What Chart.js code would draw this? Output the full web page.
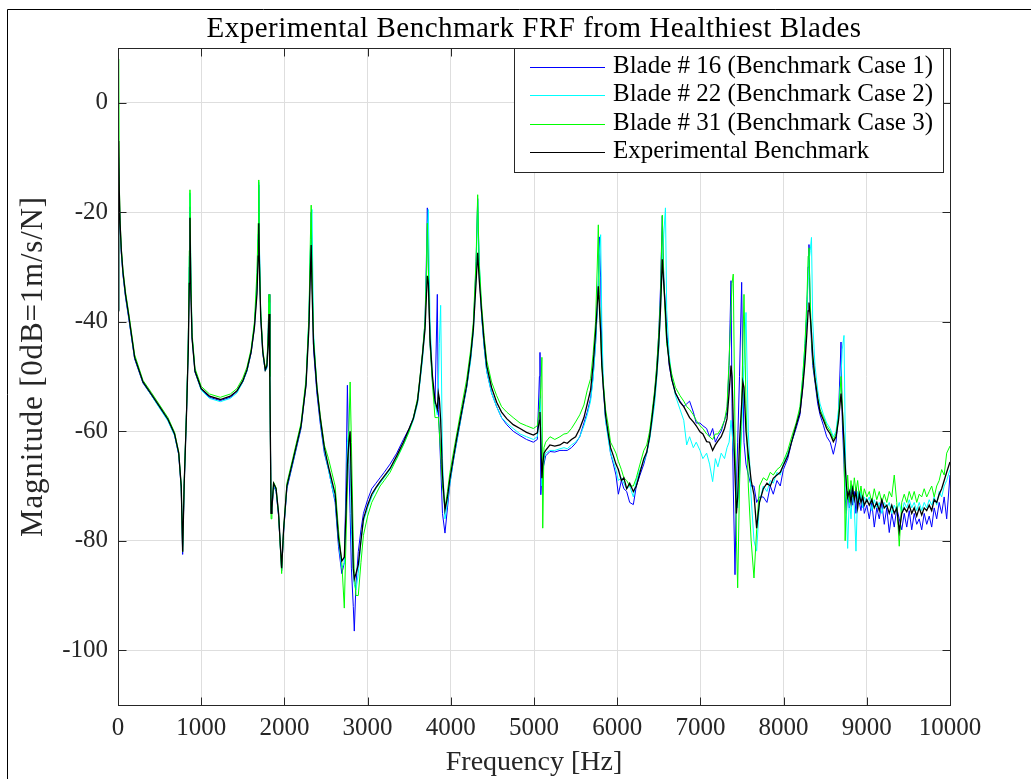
<!DOCTYPE html>
<html><head><meta charset="utf-8">
<script src="https://cdn.jsdelivr.net/npm/chart.js@4.4.1/dist/chart.umd.min.js"></script>
<style>html,body{margin:0;padding:0;background:#fff;}canvas{display:block;}</style>
</head><body>
<canvas id="c" width="1031" height="779"></canvas>
<script>
// ---------------- DATA ----------------
const freqHz = [
0, 8, 15, 25, 40, 60, 90, 130, 200, 300,
400, 500, 600, 680, 730, 760, 777, 795, 825, 845,
857, 865, 875, 890, 925, 1000, 1100, 1230, 1350, 1430,
1500, 1550, 1600, 1640, 1670, 1685, 1692, 1700, 1715, 1740,
1770, 1790, 1805, 1815, 1825, 1840, 1850, 1870, 1900, 1930,
1967, 1990, 2030, 2100, 2200, 2260, 2295, 2312, 2322, 2332,
2350, 2390, 2430, 2480,
2530, 2570, 2610, 2650, 2690, 2720, 2740, 2757, 2775, 2790,
2805, 2828, 2840, 2860, 2888, 2920, 2950, 3000, 3050, 3100,
3150, 3200, 3270, 3350, 3430, 3500, 3550, 3600, 3630, 3660,
3690, 3705, 3718, 3730, 3750, 3780, 3810, 3838, 3850, 3862,
3878, 3900, 3930, 3960, 3990, 4030, 4071, 4130, 4191, 4240,
4271, 4303, 4323, 4340, 4371, 4400, 4431, 4490, 4551, 4610,
4672, 4750, 4832, 4910, 4992, 5040, 5065, 5072, 5082, 5095,
5105, 5120, 5140, 5192, 5250,
5312, 5360, 5400, 5450, 5500, 5550, 5600, 5640, 5680, 5710,
5740, 5760, 5773, 5785, 5801, 5815, 5833, 5860, 5893, 5920,
5954, 5985, 6014, 6050, 6080, 6114, 6150, 6194, 6230, 6274,
6320, 6355, 6390, 6415, 6450, 6475, 6500, 6520, 6542, 6560,
6580, 6595, 6625, 6655, 6700, 6755, 6800, 6835, 6870, 6915,
6950, 6995, 7030, 7075, 7110, 7147, 7180, 7210, 7250, 7290,
7320, 7345, 7368, 7380, 7395, 7416, 7433, 7448, 7470, 7496,
7510, 7524, 7548, 7576, 7610, 7644, 7676,
7710, 7756, 7800, 7840, 7876, 7920, 7960, 7997, 8050, 8097,
8150, 8197, 8230, 8257, 8280, 8295, 8305, 8320, 8335, 8350,
8377, 8410, 8438, 8480, 8518, 8560, 8598, 8630, 8660, 8690,
8705, 8726, 8740, 8755, 8770, 8790, 8810, 8830, 8850, 8870,
8890, 8910, 8930, 8950, 8970, 9000, 9030, 9060, 9090, 9120,
9150, 9180, 9210, 9240, 9270, 9300, 9330, 9360, 9390, 9420,
9450, 9480, 9510, 9540, 9570, 9600, 9630, 9660, 9690, 9720,
9750, 9780, 9810, 9840, 9870, 9900, 9930, 9960, 10000
];

const blade16 = [
-38, -12, -18, -23, -27.5, -31.5, -35.5, -39.5, -46.8, -51.2,
-53.4, -55.7, -58, -60.7, -64.3, -70.5, -82.5, -70, -56, -44,
-30, -19, -33, -43, -49.2, -52.4, -53.8, -54.4, -53.8, -52.8,
-51, -49, -45.7, -41, -34, -25, -15, -27, -39, -45.7,
-49, -48.3, -42, -35, -50, -75, -74.5, -70, -71, -75.5,
-85.5, -78.5, -70.5, -66, -59.5, -51.5, -40, -28, -20, -31,
-45, -53, -58.5, -64,
-67, -70, -73, -81, -86, -84, -70, -51.6, -66, -75,
-85, -92, -96.5, -88, -82, -78, -75, -72.5, -70.5, -69.5,
-68.5, -67.5, -66, -64, -61.5, -59.5, -57.5, -54.5, -50.5, -46,
-40, -30, -19.2, -30, -44, -51, -55, -35, -56, -60,
-66, -75, -78.6, -74, -69.5, -65.5, -62, -57, -52, -46.5,
-41, -30, -17.5, -30, -39, -44.5, -49, -53, -55.5, -57.5,
-58.8, -60, -60.8, -61.5, -62, -61.5, -50, -45.6, -71.6, -68,
-67, -66, -64.5, -63.7, -63.8,
-63.5, -63.5, -63.5, -63, -62.2, -61, -58.5, -56.5, -54, -50,
-44, -38, -33, -24.5, -32, -45, -52, -58, -61, -64,
-66, -68, -71.5, -69, -70.5, -71, -73, -73.4, -70, -68,
-66, -64, -61, -58, -53, -48.5, -42, -34, -20.7, -32,
-38, -42, -48, -50.5, -53, -54.5, -55.5, -55, -54.5, -56.5,
-58.5, -58.5, -59, -59.5, -61, -59.5, -62, -61, -60, -58,
-56.5, -48, -32.5, -55, -70, -86.2, -70, -62, -50, -32.8,
-50, -62, -66, -68, -70, -70, -73,
-72, -72, -73, -70, -71.5, -69, -70, -67, -65, -62,
-59.5, -57, -52, -46, -38, -30, -25.9, -38, -44, -48,
-51, -55, -57, -59, -61, -62, -64.2, -62, -57, -43.7,
-58, -66, -72, -75, -71, -74, -70, -73.5, -71, -75,
-72, -73, -74.5, -72, -75, -73.5, -76, -73, -77.5, -74,
-76, -73, -77, -74, -78.5, -75, -77.5, -74, -76, -78,
-75, -77.5, -74.5, -78, -75, -77, -76, -78, -75, -77,
-75.5, -77.5, -74, -76, -73, -75, -72, -76, -68
];

const blade22 = [
-38, -10, -17, -22.5, -27.2, -31.2, -35.2, -39.2, -46.6, -51.1,
-53.4, -55.8, -58.1, -60.8, -64.2, -70, -81, -70, -55.5, -44,
-28, -16.5, -30, -42.5, -49, -52.5, -54, -54.6, -54, -53,
-51, -49, -45.5, -40.5, -33, -24, -14.5, -26, -38.5, -45.5,
-49, -48.5, -43, -36.5, -50, -74.5, -74, -69.8, -70.8, -75.2,
-85.2, -78.2, -70.2, -65.8, -59.2, -51, -39, -27, -21, -19.5,
-42, -52, -58, -63.5,
-67, -70, -72.5, -80, -85, -84, -74, -62, -60, -63,
-78, -86, -88, -89, -86, -80, -76.5, -74, -72, -70.5,
-69.5, -68.5, -67, -65, -62.5, -60, -58, -55, -51, -47,
-41, -32, -24, -19.5, -40, -50.5, -55, -57, -52, -44,
-37, -65, -76, -73, -69.5, -65.5, -62, -57, -52, -47,
-42, -32, -18, -28, -39, -44.5, -49, -53, -55.5, -57.5,
-58.5, -59.5, -60.5, -61, -61.5, -61, -58, -54, -58, -70,
-68, -65, -64, -63.5, -63.5,
-63.2, -63, -63.2, -62.5, -62, -61, -59, -57, -54.5, -50.5,
-44, -38, -33, -28, -24.1, -40, -51, -58, -61.5, -64,
-65.5, -67, -69, -68.5, -69.5, -70.5, -70, -72, -69, -67,
-65.5, -64, -61.5, -59, -55, -50.5, -45, -38, -30, -24,
-19.2, -38, -46, -50, -53.5, -56, -58, -62.5, -61, -63,
-62, -63.5, -65, -64, -66, -69.2, -65, -66.5, -64, -65,
-63, -62, -58, -60, -63, -66, -72, -74, -68, -60,
-54, -48, -38.3, -60, -72, -80, -81.9,
-73, -70, -71, -69, -69.5, -67.5, -68, -66, -64, -62,
-59, -56, -50, -44, -38, -32, -29, -27, -24.6, -40,
-48, -52.5, -55, -57, -58.5, -59.5, -61, -60, -56, -50,
-45, -42.5, -60, -75, -81.4, -72, -76, -70, -74, -81.9,
-71, -73, -71, -74, -72, -73, -72, -74.5, -72.5, -74,
-73, -75, -73, -74, -73, -75, -73.5, -74.5, -73, -75,
-73, -74, -72.5, -74, -73, -74.5, -73, -74.5, -73, -74,
-72.5, -73.5, -72, -73.5, -71, -72, -70, -69, -67
];

const blade31 = [
-38, 8, -14, -21.5, -26.5, -30.5, -34.5, -38.5, -46, -50.7,
-52.9, -55.2, -57.5, -60.2, -63.8, -70, -82, -69.5, -55.5, -43,
-27, -15.9, -31, -42, -48.5, -51.8, -53.2, -53.8, -53.2, -52.2,
-50.3, -48.3, -45, -40, -31, -22, -14.1, -28, -38, -45,
-48.5, -47.5, -42, -35, -50, -76, -74, -69.3, -70.3, -75,
-86, -78, -69.5, -65, -58.5, -50.5, -39, -25, -18.7, -30,
-43, -51.5, -57, -62.5,
-65, -67.5, -70, -78, -84, -92.3, -80, -70, -60, -51,
-62, -80, -86, -90, -90, -84, -79, -75.5, -73, -71.5,
-70, -69, -67.5, -65, -62.5, -60, -57.5, -54, -50, -45.5,
-40, -32, -22, -30, -44, -51.5, -57.5, -57.5, -57.4, -60,
-64, -70, -74, -71, -67.5, -64, -60.5, -55.5, -50.5, -45,
-40, -29, -16.8, -29, -37, -42.5, -47, -51, -53.5, -55.5,
-56.5, -57.5, -58.5, -59, -59.5, -59, -56, -56, -52, -46.5,
-77.7, -63, -62, -61, -61.5,
-61, -60.5, -60.4, -59.5, -58.3, -57, -55.2, -52.5, -50.4, -46,
-40, -30, -22.3, -35, -42, -48, -51, -56, -59, -62,
-63, -64, -65.5, -67, -68.5, -69, -70, -70, -68.5, -66,
-63.5, -62.5, -60, -57, -52.5, -48, -42, -36, -20.5, -33,
-40, -44, -47, -49.5, -52, -53.5, -54.5, -55.5, -56, -57,
-58, -59, -59.5, -60.5, -61, -61.5, -60.5, -60.5, -59.5, -58,
-55.5, -47, -38, -33, -31.3, -60, -80, -88.6, -70, -55,
-45, -35, -55, -70, -80, -86.8, -78,
-70, -68.5, -69, -67.5, -68, -67, -66.5, -65.5, -63.5, -61,
-58.5, -55.5, -50, -44, -36, -28, -26.5, -36, -43, -47,
-50.5, -54, -56, -57.5, -59, -60, -61.5, -60.5, -57.5, -50,
-55, -62, -80, -72, -68, -73, -69, -72, -68.5, -71,
-69, -72, -70, -72.5, -70.5, -72, -71, -73, -70.5, -72.5,
-71, -73, -71.5, -73, -71, -72, -68, -73, -81, -73,
-71.5, -73, -71, -72.5, -71, -73, -71.5, -72, -70.5, -72,
-71, -70, -72, -70, -69, -67, -68, -64, -62.7
];

const benchmark = [
-38, -7, -16, -22, -27, -31, -35, -39, -46.5, -51,
-53.2, -55.5, -57.8, -60.5, -64, -70, -82, -70, -56, -45,
-33, -21, -34, -43, -49, -52.2, -53.6, -54.2, -53.6, -52.6,
-50.8, -48.8, -45.5, -41, -35, -28, -22, -30, -39, -45.5,
-48.8, -48, -44, -38.6, -50, -75, -74, -69.5, -70.5, -75,
-85, -78, -70, -65.5, -59, -51.5, -41, -31, -26, -34,
-44, -52, -57.5, -63,
-66.5, -69, -71.5, -79.5, -83.7, -83, -75, -66, -62, -60,
-70, -85, -87, -86, -84.4, -80, -76, -73.5, -71.5, -70.3,
-69.2, -68.2, -66.8, -64.5, -62, -59.5, -57.7, -54.5, -50.4, -46,
-41.4, -36, -31.6, -33, -43, -50, -54.4, -56, -53, -54,
-58, -68, -74.4, -72, -68.6, -65, -61.3, -56.5, -51.6, -46,
-41.4, -33, -27.4, -32, -38.3, -43.5, -48, -52, -54.7, -56.5,
-57.7, -58.8, -59.5, -60.2, -60.7, -60.3, -58, -56.5, -62, -68.6,
-66, -64, -63.5, -62.5, -62.7,
-62.5, -62, -62.2, -61.5, -61, -59.5, -57.5, -55, -52.5, -48,
-42, -37, -33.5, -37, -42, -48, -52, -57, -60.5, -63,
-64.5, -66, -67, -69, -68.5, -70.5, -69.5, -71, -70, -67.5,
-65, -63.8, -61, -58, -53.5, -49.5, -44, -38, -28.6, -33,
-38, -43, -47.5, -50.5, -53, -54.7, -55.5, -56.5, -57.5, -58.3,
-59, -60.1, -60.5, -61.9, -62, -63.5, -62.5, -61.8, -61, -59.5,
-57.7, -53, -48, -50, -58, -68, -75, -72, -62, -55,
-51, -52, -60, -64.4, -69, -71.6, -77.7,
-73, -70.5, -69.5, -70, -68.6, -68, -67.5, -66.2, -64.5, -61.9,
-59, -56.5, -52, -47.4, -42, -38, -36.5, -39, -42, -46,
-50.4, -54, -56.5, -58, -59.5, -60.5, -61.9, -61, -58, -53.1,
-56, -62, -66, -70, -72, -71, -73, -70.5, -72.5, -71,
-74, -71.5, -73, -72, -73.5, -72.5, -73.5, -72.5, -74, -73,
-74.5, -72.5, -74, -73.5, -75, -73.5, -75, -74, -78.3, -75,
-74, -74.7, -73.5, -75, -74, -75.5, -74, -75.3, -74, -74.5,
-73.5, -74.5, -72.5, -73, -71.5, -70.5, -69, -67.5, -65.6
];

const seriesLabels = [
  'Blade # 16 (Benchmark Case 1)',
  'Blade # 22 (Benchmark Case 2)',
  'Blade # 31 (Benchmark Case 3)',
  'Experimental Benchmark'
];
const xTickValues = [0, 1000, 2000, 3000, 4000, 5000, 6000, 7000, 8000, 9000, 10000];
const yTickValues = [-100, -80, -60, -40, -20, 0];
const chartTitle = 'Experimental Benchmark FRF from Healthiest Blades';
const xAxisTitle = 'Frequency [Hz]';
const yAxisTitle = 'Magnitude [0dB=1m/s/N]';

// ---------------- STYLE ----------------
const SERIF = "'Liberation Serif', 'Times New Roman', serif";
const AXC = '#262626';
const colors = ['#0000ff', '#00ffff', '#00ff00', '#000000'];
const widths = [1, 1, 1, 1.3];
const drawOrder = [3, 2, 1, 0];

function toPoints(ys) {
  const n = Math.min(freqHz.length, ys.length);
  const out = [];
  for (let i = 0; i < n; i++) out.push({ x: freqHz[i], y: ys[i] });
  return out;
}
const seriesValues = [blade16, blade22, blade31, benchmark];

function setSpacing(ctx, v) { try { ctx.letterSpacing = v; } catch (e) {} }

const decorPlugin = {
  id: 'decor',
  beforeDraw(chart) {
    const ctx = chart.ctx;
    ctx.save();
    ctx.fillStyle = '#fff';
    ctx.fillRect(0, 0, chart.width, chart.height);
    ctx.strokeStyle = '#000';
    ctx.lineWidth = 1;
    ctx.beginPath();
    ctx.moveTo(7.5, chart.height);
    ctx.lineTo(7.5, 9.5);
    ctx.lineTo(chart.width, 9.5);
    ctx.stroke();
    ctx.restore();
  },
  afterDraw(chart) {
    const ctx = chart.ctx;
    const a = chart.chartArea;
    const xs = chart.scales.x, ys = chart.scales.y;
    const L = Math.round(a.left) + 0.5, R = Math.round(a.right) + 0.5;
    const T = Math.round(a.top) + 0.5, B = Math.round(a.bottom) + 0.5;
    ctx.save();
    // axes box
    ctx.strokeStyle = AXC;
    ctx.lineWidth = 1;
    ctx.strokeRect(L, T, R - L, B - T);
    // inner ticks
    const tl = 8;
    ctx.beginPath();
    xTickValues.forEach(v => {
      const px = Math.round(xs.getPixelForValue(v)) + 0.5;
      ctx.moveTo(px, B); ctx.lineTo(px, B - tl);
      ctx.moveTo(px, T); ctx.lineTo(px, T + tl);
    });
    yTickValues.forEach(v => {
      const py = Math.round(ys.getPixelForValue(v)) + 0.5;
      ctx.moveTo(L, py); ctx.lineTo(L + tl, py);
      ctx.moveTo(R, py); ctx.lineTo(R - tl, py);
    });
    ctx.stroke();

    // title
    ctx.fillStyle = '#000';
    ctx.font = '29px ' + SERIF;
    ctx.textAlign = 'center';
    ctx.textBaseline = 'alphabetic';
    setSpacing(ctx, '0.5px');
    ctx.fillText(chartTitle, (a.left + a.right) / 2, 37);

    // y axis title (rotated)
    ctx.save();
    ctx.fillStyle = AXC;
    ctx.font = '31px ' + SERIF;
    setSpacing(ctx, '0.8px');
    ctx.translate(42, (a.top + a.bottom) / 2 - 10);
    ctx.rotate(-Math.PI / 2);
    ctx.textAlign = 'center';
    ctx.textBaseline = 'alphabetic';
    ctx.fillText(yAxisTitle, 0, 0);
    ctx.restore();
    setSpacing(ctx, '0px');

    // legend
    ctx.font = '25px ' + SERIF;
    const ds = chart.data.datasets;
    let maxW = 0;
    ds.forEach(d => { maxW = Math.max(maxW, ctx.measureText(d.label).width); });
    const lineLen = 75, padL = 16, gap = 8, padR = 10;
    const boxW = padL + lineLen + gap + maxW + padR;
    const boxR = Math.round(a.right) - 7;
    const boxL = Math.round(boxR - boxW);
    const boxT = Math.round(a.top);
    const rowH = 28.4, firstRow = 19;
    const boxH = Math.round(firstRow + rowH * (ds.length - 1) + 20);
    ctx.fillStyle = '#fff';
    ctx.fillRect(boxL + 0.5, boxT + 0.5, boxR - boxL, boxH);
    ctx.strokeStyle = AXC;
    ctx.lineWidth = 1;
    ctx.strokeRect(boxL + 0.5, boxT + 0.5, boxR - boxL, boxH);
    ds.forEach((d, i) => {
      const y = Math.round(boxT + firstRow + rowH * i) + 0.5;
      ctx.strokeStyle = d.borderColor;
      ctx.lineWidth = 1.2;
      ctx.beginPath();
      ctx.moveTo(boxL + padL, y);
      ctx.lineTo(boxL + padL + lineLen, y);
      ctx.stroke();
      ctx.fillStyle = '#000';
      ctx.textAlign = 'left';
      ctx.textBaseline = 'middle';
      ctx.fillText(d.label, boxL + padL + lineLen + gap, y - 1.5);
    });
    ctx.restore();
  }
};

new Chart(document.getElementById('c'), {
  type: 'line',
  data: {
    datasets: seriesLabels.map((lab, i) => ({
      label: lab,
      data: toPoints(seriesValues[i]),
      borderColor: colors[i],
      backgroundColor: colors[i],
      borderWidth: widths[i],
      pointRadius: 0,
      tension: 0,
      fill: false,
      order: drawOrder[i]
    }))
  },
  options: {
    responsive: false,
    animation: false,
    devicePixelRatio: 1,
    layout: { padding: { left: 0, right: 81, top: 48, bottom: 0 } },
    plugins: {
      legend: { display: false },
      title: { display: false },
      tooltip: { enabled: false }
    },
    scales: {
      x: {
        type: 'linear',
        min: 0, max: 10000,
        afterBuildTicks: s => { s.ticks = xTickValues.map(v => ({ value: v })); },
        afterFit: s => { s.height = 74; },
        ticks: {
          callback: v => String(v),
          font: { family: SERIF, size: 25 },
          color: AXC,
          padding: 8,
          maxRotation: 0,
          autoSkip: false
        },
        grid: { color: '#dedede', lineWidth: 1, drawTicks: false },
        border: { display: false },
        title: {
          display: true, text: xAxisTitle,
          font: { family: SERIF, size: 28 }, color: AXC,
          padding: { top: 0, bottom: 0 }
        }
      },
      y: {
        type: 'linear',
        min: -110, max: 10,
        afterBuildTicks: s => { s.ticks = yTickValues.map(v => ({ value: v })); },
        afterFit: s => { s.width = 118; },
        ticks: {
          callback: v => String(v),
          font: { family: SERIF, size: 25 },
          color: AXC,
          padding: 10
        },
        grid: { color: '#dedede', lineWidth: 1, drawTicks: false },
        border: { display: false },
        title: { display: false }
      }
    }
  },
  plugins: [decorPlugin]
});
</script>
</body></html>
